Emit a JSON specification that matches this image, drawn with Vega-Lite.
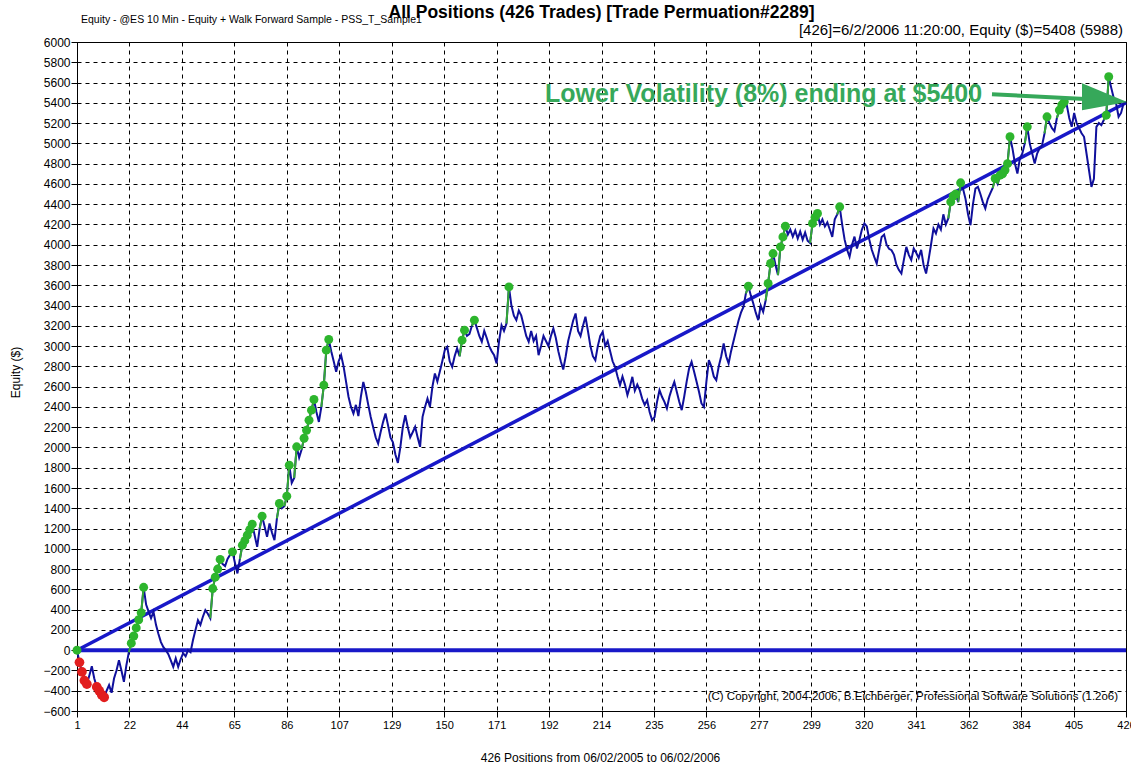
{
"$schema": "https://vega.github.io/schema/vega-lite/v6.json",
"width": 1049, "height": 669,
"autosize": {"type": "none"},
"padding": {"left": 77, "top": 42, "right": 5, "bottom": 56},
"background": "white",
"config": {"view": {"stroke": "black", "strokeWidth": 1}, "font": "Liberation Sans"},
"datasets": {
"eq": [
{"p":1,"e":0,"k":"H"},{"p":2,"e":-120,"k":"L"},{"p":3,"e":-214,"k":"L"},{"p":4,"e":-300,"k":"L"},{"p":5,"e":-335,"k":"L"},{"p":6,"e":-250},{"p":7,"e":-158},{"p":8,"e":-280},{"p":9,"e":-362,"k":"L"},{"p":10,"e":-400,"k":"L"},
{"p":11,"e":-440,"k":"L"},{"p":12,"e":-465,"k":"L"},{"p":13,"e":-400},{"p":14,"e":-345},{"p":15,"e":-420},{"p":16,"e":-280},{"p":17,"e":-200},{"p":18,"e":-100},{"p":19,"e":-200},{"p":20,"e":-312},
{"p":21,"e":-150},{"p":22,"e":-20},{"p":23,"e":69,"k":"H"},{"p":24,"e":140,"k":"H"},{"p":25,"e":220,"k":"H"},{"p":26,"e":300,"k":"H"},{"p":27,"e":370,"k":"H"},{"p":28,"e":620,"k":"H"},{"p":29,"e":450},{"p":30,"e":380},
{"p":31,"e":315},{"p":32,"e":378},{"p":33,"e":250},{"p":34,"e":160},{"p":35,"e":80},{"p":36,"e":30},{"p":37,"e":0},{"p":38,"e":-40},{"p":39,"e":-100},{"p":40,"e":-164},
{"p":41,"e":-81},{"p":42,"e":-164},{"p":43,"e":-90},{"p":44,"e":-30},{"p":45,"e":-60},{"p":46,"e":0},{"p":47,"e":-20},{"p":48,"e":100},{"p":49,"e":200},{"p":50,"e":296},
{"p":51,"e":250},{"p":52,"e":330},{"p":53,"e":395},{"p":54,"e":360},{"p":55,"e":315},{"p":56,"e":608,"k":"H"},{"p":57,"e":720,"k":"H"},{"p":58,"e":800,"k":"H"},{"p":59,"e":895,"k":"H"},{"p":60,"e":850},
{"p":61,"e":830},{"p":62,"e":900},{"p":63,"e":940},{"p":64,"e":970,"k":"H"},{"p":65,"e":860},{"p":66,"e":757},{"p":67,"e":900},{"p":68,"e":1036,"k":"H"},{"p":69,"e":1080,"k":"H"},{"p":70,"e":1135,"k":"H"},
{"p":71,"e":1190,"k":"H"},{"p":72,"e":1243,"k":"H"},{"p":73,"e":1130},{"p":74,"e":1019},{"p":75,"e":1200},{"p":76,"e":1322,"k":"H"},{"p":77,"e":1220},{"p":78,"e":1118},{"p":79,"e":1250},{"p":80,"e":1160},
{"p":81,"e":1085},{"p":82,"e":1300},{"p":83,"e":1447,"k":"H"},{"p":84,"e":1400},{"p":85,"e":1420},{"p":86,"e":1519,"k":"H"},{"p":87,"e":1825,"k":"H"},{"p":88,"e":1650},{"p":89,"e":1700},{"p":90,"e":2006,"k":"H"},
{"p":91,"e":1900},{"p":92,"e":1980},{"p":93,"e":2091,"k":"H"},{"p":94,"e":2170,"k":"H"},{"p":95,"e":2269,"k":"H"},{"p":96,"e":2368,"k":"H"},{"p":97,"e":2473,"k":"H"},{"p":98,"e":2350},{"p":99,"e":2252},{"p":100,"e":2400},
{"p":101,"e":2615,"k":"H"},{"p":102,"e":2960,"k":"H"},{"p":103,"e":3065,"k":"H"},{"p":104,"e":2950},{"p":105,"e":2850},{"p":106,"e":2746},{"p":107,"e":2850},{"p":108,"e":2911},{"p":109,"e":2800},{"p":110,"e":2650},
{"p":111,"e":2500},{"p":112,"e":2400},{"p":113,"e":2335},{"p":114,"e":2420},{"p":115,"e":2309},{"p":116,"e":2500},{"p":117,"e":2647},{"p":118,"e":2550},{"p":119,"e":2420},{"p":120,"e":2300},
{"p":121,"e":2200},{"p":122,"e":2100},{"p":123,"e":2039},{"p":124,"e":2150},{"p":125,"e":2250},{"p":126,"e":2335},{"p":127,"e":2220},{"p":128,"e":2100},{"p":129,"e":2050},{"p":130,"e":1930},
{"p":131,"e":1848},{"p":132,"e":2000},{"p":133,"e":2200},{"p":134,"e":2318},{"p":135,"e":2200},{"p":136,"e":2100},{"p":137,"e":2150},{"p":138,"e":2203},{"p":139,"e":2100},{"p":140,"e":2006},
{"p":141,"e":2302},{"p":142,"e":2400},{"p":143,"e":2483},{"p":144,"e":2400},{"p":145,"e":2600},{"p":146,"e":2730},{"p":147,"e":2650},{"p":148,"e":2750},{"p":149,"e":2850},{"p":150,"e":2960},
{"p":151,"e":2992},{"p":152,"e":2850},{"p":153,"e":2795},{"p":154,"e":2900},{"p":155,"e":2977},{"p":156,"e":2900},{"p":157,"e":3058,"k":"H"},{"p":158,"e":3157,"k":"H"},{"p":159,"e":3100},{"p":160,"e":3120},
{"p":161,"e":3200},{"p":162,"e":3256,"k":"H"},{"p":163,"e":3180},{"p":164,"e":3100},{"p":165,"e":3042},{"p":166,"e":3150},{"p":167,"e":3080},{"p":168,"e":3000},{"p":169,"e":2950},{"p":170,"e":2911},
{"p":171,"e":2829},{"p":172,"e":3050},{"p":173,"e":3206},{"p":174,"e":3150},{"p":175,"e":3223},{"p":176,"e":3584,"k":"H"},{"p":177,"e":3400},{"p":178,"e":3300},{"p":179,"e":3256},{"p":180,"e":3350},
{"p":181,"e":3300},{"p":182,"e":3200},{"p":183,"e":3100},{"p":184,"e":3042},{"p":185,"e":3150},{"p":186,"e":3050},{"p":187,"e":3100},{"p":188,"e":2911},{"p":189,"e":3000},{"p":190,"e":3100},
{"p":191,"e":3050},{"p":192,"e":3000},{"p":193,"e":3100},{"p":194,"e":3174},{"p":195,"e":3080},{"p":196,"e":2950},{"p":197,"e":2850},{"p":198,"e":2769},{"p":199,"e":2900},{"p":200,"e":3050},
{"p":201,"e":3150},{"p":202,"e":3250},{"p":203,"e":3322},{"p":204,"e":3150},{"p":205,"e":3100},{"p":206,"e":3200},{"p":207,"e":3289},{"p":208,"e":3150},{"p":209,"e":3000},{"p":210,"e":2900},
{"p":211,"e":2861},{"p":212,"e":3000},{"p":213,"e":3100},{"p":214,"e":3140},{"p":215,"e":3000},{"p":216,"e":3050},{"p":217,"e":2950},{"p":218,"e":2850},{"p":219,"e":2795},{"p":220,"e":2700},
{"p":221,"e":2615},{"p":222,"e":2700},{"p":223,"e":2620},{"p":224,"e":2516},{"p":225,"e":2600},{"p":226,"e":2697},{"p":227,"e":2560},{"p":228,"e":2620},{"p":229,"e":2565},{"p":230,"e":2480},
{"p":231,"e":2420},{"p":232,"e":2467},{"p":233,"e":2350},{"p":234,"e":2269},{"p":235,"e":2300},{"p":236,"e":2450},{"p":237,"e":2565},{"p":238,"e":2500},{"p":239,"e":2450},{"p":240,"e":2385},
{"p":241,"e":2500},{"p":242,"e":2580},{"p":243,"e":2647},{"p":244,"e":2550},{"p":245,"e":2450},{"p":246,"e":2368},{"p":247,"e":2500},{"p":248,"e":2650},{"p":249,"e":2780},{"p":250,"e":2845},
{"p":251,"e":2750},{"p":252,"e":2650},{"p":253,"e":2550},{"p":254,"e":2434},{"p":255,"e":2400},{"p":256,"e":2650},{"p":257,"e":2861},{"p":258,"e":2800},{"p":259,"e":2700},{"p":260,"e":2664},
{"p":261,"e":2800},{"p":262,"e":2900},{"p":263,"e":3026},{"p":264,"e":2900},{"p":265,"e":2829},{"p":266,"e":2950},{"p":267,"e":3050},{"p":268,"e":3150},{"p":269,"e":3250},{"p":270,"e":3330},
{"p":271,"e":3387},{"p":272,"e":3519},{"p":273,"e":3591,"k":"H"},{"p":274,"e":3500},{"p":275,"e":3420},{"p":276,"e":3330},{"p":277,"e":3256},{"p":278,"e":3400},{"p":279,"e":3338},{"p":280,"e":3450},
{"p":281,"e":3618,"k":"H"},{"p":282,"e":3815,"k":"H"},{"p":283,"e":3913,"k":"H"},{"p":284,"e":3800},{"p":285,"e":3700},{"p":286,"e":3979,"k":"H"},{"p":287,"e":4077,"k":"H"},{"p":288,"e":4183,"k":"H"},{"p":289,"e":4100},{"p":290,"e":4150},
{"p":291,"e":4080},{"p":292,"e":4140},{"p":293,"e":4060},{"p":294,"e":4130},{"p":295,"e":4050},{"p":296,"e":4120},{"p":297,"e":4040},{"p":298,"e":4018},{"p":299,"e":4210,"k":"H"},{"p":300,"e":4270,"k":"H"},
{"p":301,"e":4308,"k":"H"},{"p":302,"e":4200},{"p":303,"e":4250},{"p":304,"e":4180},{"p":305,"e":4220},{"p":306,"e":4150},{"p":307,"e":4077},{"p":308,"e":4250},{"p":309,"e":4300},{"p":310,"e":4374,"k":"H"},
{"p":311,"e":4200},{"p":312,"e":4050},{"p":313,"e":3950},{"p":314,"e":3881},{"p":315,"e":4000},{"p":316,"e":4080},{"p":317,"e":3963},{"p":318,"e":4050},{"p":319,"e":4150},{"p":320,"e":4210},
{"p":321,"e":4180},{"p":322,"e":4050},{"p":323,"e":3950},{"p":324,"e":3880},{"p":325,"e":3815},{"p":326,"e":3950},{"p":327,"e":4077},{"p":328,"e":4100},{"p":329,"e":4000},{"p":330,"e":3960},
{"p":331,"e":3946},{"p":332,"e":3900},{"p":333,"e":3800},{"p":334,"e":3750},{"p":335,"e":3716},{"p":336,"e":3850},{"p":337,"e":3979},{"p":338,"e":3900},{"p":339,"e":3850},{"p":340,"e":3963},
{"p":341,"e":3920},{"p":342,"e":3870},{"p":343,"e":3950},{"p":344,"e":3800},{"p":345,"e":3716},{"p":346,"e":3850},{"p":347,"e":4000},{"p":348,"e":4160},{"p":349,"e":4111},{"p":350,"e":4200},
{"p":351,"e":4150},{"p":352,"e":4300},{"p":353,"e":4200},{"p":354,"e":4259},{"p":355,"e":4423,"k":"H"},{"p":356,"e":4480,"k":"H"},{"p":357,"e":4500,"k":"H"},{"p":358,"e":4420},{"p":359,"e":4611,"k":"H"},{"p":360,"e":4550},
{"p":361,"e":4450},{"p":362,"e":4300},{"p":363,"e":4193},{"p":364,"e":4400},{"p":365,"e":4555},{"p":366,"e":4571},{"p":367,"e":4500},{"p":368,"e":4420},{"p":369,"e":4358},{"p":370,"e":4450},
{"p":371,"e":4506},{"p":372,"e":4560},{"p":373,"e":4653,"k":"H"},{"p":374,"e":4600},{"p":375,"e":4686,"k":"H"},{"p":376,"e":4700,"k":"H"},{"p":377,"e":4736,"k":"H"},{"p":378,"e":4800,"k":"H"},{"p":379,"e":5065,"k":"H"},{"p":380,"e":4950},
{"p":381,"e":4802},{"p":382,"e":4703},{"p":383,"e":4850},{"p":384,"e":4900},{"p":385,"e":5000},{"p":386,"e":5163,"k":"H"},{"p":387,"e":5000},{"p":388,"e":4900},{"p":389,"e":4802},{"p":390,"e":4900},
{"p":391,"e":4950},{"p":392,"e":4980},{"p":393,"e":5100},{"p":394,"e":5262,"k":"H"},{"p":395,"e":5200},{"p":396,"e":5150},{"p":397,"e":5120},{"p":398,"e":5250},{"p":399,"e":5328,"k":"H"},{"p":400,"e":5380,"k":"H"},
{"p":401,"e":5410,"k":"H"},{"p":402,"e":5380},{"p":403,"e":5250},{"p":404,"e":5163},{"p":405,"e":5300},{"p":406,"e":5200},{"p":407,"e":5150},{"p":408,"e":5100},{"p":409,"e":5065},{"p":410,"e":4900},
{"p":411,"e":4736},{"p":412,"e":4571},{"p":413,"e":4650},{"p":414,"e":5163},{"p":415,"e":5200},{"p":416,"e":5180},{"p":417,"e":5230},{"p":418,"e":5278,"k":"H"},{"p":419,"e":5657,"k":"H"},{"p":420,"e":5550},
{"p":421,"e":5450},{"p":422,"e":5393},{"p":423,"e":5262},{"p":424,"e":5300},{"p":425,"e":5393},{"p":426,"e":5408}
]
},
"encoding": {
"x": {"field": "p", "type": "quantitative", "scale": {"domain": [1, 426], "nice": false, "zero": false},
 "axis": {"title": "426 Positions from 06/02/2005 to 06/02/2006", "values": [1,22.25,43.5,64.75,86,107.25,128.5,149.75,171,192.25,213.5,234.75,256,277.25,298.5,319.75,341,362.25,383.5,404.75,426], "labelExpr": "round(datum.value)", "grid": true, "gridColor": "black", "gridDash": [4,4], "gridOpacity": 1, "gridWidth": 1, "domainColor": "black", "tickColor": "black", "tickSize": 6, "labelFont": "Liberation Sans", "labelFontSize": 11, "labelColor": "black", "labelFlush": false, "labelOverlap": false, "labelPadding": 2, "titleFont": "Liberation Sans", "titleFontSize": 12, "titleFontWeight": "normal", "titleColor": "black", "titleX": 523, "titleY": 50, "titleBaseline": "alphabetic", "titleAnchor": "middle"}},
"y": {"field": "e", "type": "quantitative", "scale": {"domain": [-600, 6000], "nice": false, "zero": false},
 "axis": {"title": "Equity ($)", "format": "d", "values": [-600,-400,-200,0,200,400,600,800,1000,1200,1400,1600,1800,2000,2200,2400,2600,2800,3000,3200,3400,3600,3800,4000,4200,4400,4600,4800,5000,5200,5400,5600,5800,6000], "grid": true, "gridColor": "black", "gridDash": [4,4], "gridOpacity": 1, "gridWidth": 1, "domainColor": "black", "tickColor": "black", "tickSize": 6, "labelFont": "Liberation Sans", "labelFontSize": 12, "labelColor": "black", "labelPadding": 1, "labelOverlap": false, "labelFlush": false, "titleFont": "Liberation Sans", "titleFontSize": 12, "titleFontWeight": "normal", "titleColor": "black", "titleX": -62, "titleY": 330, "titleAngle": -90, "titleBaseline": "middle", "titleAnchor": "middle"}}
},
"layer": [
{"data": {"values": [{"p": 1, "e": 0}, {"p": 426, "e": 0}]}, "mark": {"type": "line", "color": "#1818c8", "strokeWidth": 4}},
{"data": {"values": [{"p": 1, "e": 0}, {"p": 426, "e": 5400}]}, "mark": {"type": "line", "color": "#1818c8", "strokeWidth": 3.5}},
{"data": {"name": "eq"}, "mark": {"type": "line", "color": "#10109c", "strokeWidth": 2}},
{"data": {"name": "eq"},
 "transform": [{"window": [{"op": "lag", "field": "p", "as": "pp"}, {"op": "lag", "field": "e", "as": "pe"}], "sort": [{"field": "p"}]}, {"filter": "datum.k === 'H' && datum.pp != null"}],
 "mark": {"type": "rule", "color": "#34a834", "strokeWidth": 2},
 "encoding": {"x2": {"field": "pp"}, "y2": {"field": "pe"}}},
{"data": {"name": "eq"}, "transform": [{"filter": "datum.k === 'H'"}], "mark": {"type": "point", "filled": true, "color": "#2db52d", "size": 80, "opacity": 1}},
{"data": {"name": "eq"}, "transform": [{"filter": "datum.k === 'L'"}], "mark": {"type": "point", "filled": true, "color": "#e21e1e", "size": 95, "opacity": 1}},
{"data": {"values": [{"p": 371.7, "e": 5485, "p2": 411.5, "e2": 5436}]}, "mark": {"type": "rule", "color": "#36a85a", "strokeWidth": 4}, "encoding": {"x2": {"field": "p2"}, "y2": {"field": "e2"}}},
{"data": {"values": [{"p": 417.3, "e": 5461}]}, "mark": {"type": "point", "filled": true, "color": "#36a85a", "opacity": 1, "size": 2025, "shape": "M-1,-0.6L1,0.24L-1,0.6Z"}},
{"data": {"values": [{"p": 190.6, "e": 5406, "t": "Lower Volatility (8%) ending at $5400"}]}, "mark": {"type": "text", "align": "left", "baseline": "alphabetic", "font": "Liberation Sans", "fontSize": 25, "fontWeight": "bold", "color": "#36a85a"}, "encoding": {"text": {"field": "t"}}},
{"data": {"values": [{"p": 213.5, "e": 6235, "t": "All Positions (426 Trades) [Trade Permuation#2289]"}]}, "mark": {"type": "text", "align": "center", "baseline": "alphabetic", "font": "Liberation Sans", "fontSize": 17.5, "fontWeight": "bold", "color": "black", "clip": false}, "encoding": {"text": {"field": "t"}}},
{"data": {"values": [{"p": 2.6, "e": 6186, "t": "Equity - @ES 10 Min - Equity + Walk Forward Sample - PSS_T_Sample1"}]}, "mark": {"type": "text", "align": "left", "baseline": "alphabetic", "font": "Liberation Sans", "fontSize": 10.5, "color": "black", "clip": false}, "encoding": {"text": {"field": "t"}}},
{"data": {"values": [{"p": 424.8, "e": 6068, "t": "[426]=6/2/2006 11:20:00,   Equity ($)=5408 (5988)"}]}, "mark": {"type": "text", "align": "right", "baseline": "alphabetic", "font": "Liberation Sans", "fontSize": 15, "color": "black", "clip": false}, "encoding": {"text": {"field": "t"}}},
{"data": {"values": [{"p": 422.8, "e": -493, "t": "(C) Copyright, 2004-2006, B.Eichberger, Professional Software Solutions (1.2o6)"}]}, "mark": {"type": "text", "align": "right", "baseline": "alphabetic", "font": "Liberation Sans", "fontSize": 11.5, "color": "black"}, "encoding": {"text": {"field": "t"}}}
]
}
